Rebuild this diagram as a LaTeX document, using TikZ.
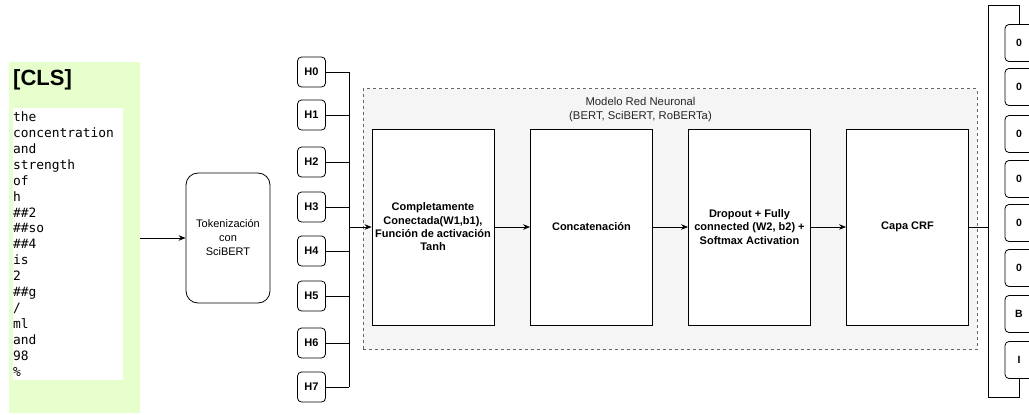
\documentclass[tikz,border=0pt]{standalone}
\usepackage{fontspec}
\setmainfont{Liberation Sans}
\newfontfamily\tokfont{DejaVu Sans Mono}
\usetikzlibrary{arrows.meta}
\definecolor{panelgreen}{HTML}{E6FFCC}
\definecolor{modelfill}{HTML}{F5F5F5}
\definecolor{modeldraw}{HTML}{666666}
\begin{document}
\begin{tikzpicture}[x=1pt,y=-1pt,
  wire/.style={line width=0.8pt},
  arr/.style={wire,-{Stealth[length=7pt,width=5.5pt]}},
  hbox/.style={draw,wire,rounded corners=4pt,minimum width=28pt,minimum height=30pt,inner sep=0pt,font=\bfseries\fontsize{11}{13}\selectfont},
  obox/.style={draw,wire,rounded corners=4pt,minimum width=28pt,minimum height=37pt,inner sep=0pt,font=\bfseries\fontsize{10.5}{12}\selectfont},
  layer/.style={draw,wire,fill=white,minimum width=122pt,minimum height=196pt,inner sep=0pt,align=center,font=\bfseries\fontsize{11}{13.3}\selectfont}
]
\useasboundingbox (0,0) rectangle (1029,415);
\clip (0,0) rectangle (1029,415);

% green token panel
\node[fill=panelgreen,minimum width=131pt,minimum height=351pt,inner sep=0pt] (cls) at (74.5,237.5) {};
\node[anchor=west,inner sep=0pt,font=\bfseries\fontsize{22}{24}\selectfont] (clslbl) at (13,80) {[CLS]};
\node[fill=white,minimum width=110pt,minimum height=272pt,inner sep=0pt,text width=110pt,align=left,
      font=\tokfont\fontsize{12.9}{15.95}\selectfont] (toks) at (68,244)
 {the\\concentration\\and\\strength\\of\\h\\\#\#2\\\#\#so\\\#\#4\\is\\2\\\#\#g\\/\\ml\\and\\98\\\%};

% tokenization
\node[draw,wire,rounded corners=12pt,minimum width=84pt,minimum height=130pt,align=center,
      font=\fontsize{11}{14}\selectfont] (tok) at (228,238) {Tokenización\\con\\SciBERT};
\coordinate (clsout) at (140,238);
\draw[arr] (clsout) -- (tok.west);

% hidden states
\foreach \i/\y in {0/72,1/115,2/162,3/207,4/251,5/296,6/343,7/387}{
  \node[hbox] (h\i) at (311.5,\y) {H\i};
}
\coordinate (bus) at (349,227);
\foreach \i in {0,...,7}{ \draw[wire] (h\i.east) -- (h\i.east -| bus); }
\draw[wire] (h0.east -| bus) -- (h7.east -| bus);

% model container
\node[draw=modeldraw,fill=modelfill,dashed,line width=0.7pt,minimum width=614pt,minimum height=261pt,inner sep=0pt] (model) at (670,219) {};
\node[align=center,font=\fontsize{11.3}{14}\selectfont,text=black!85] (modellbl) at (640.5,110) {Modelo Red Neuronal\\(BERT, SciBERT, RoBERTa)};

\node[layer] (l1) at (433,227) {Completamente\\Conectada(W1,b1),\\Función de activación\\Tanh};
\node[layer] (l2) at (591.5,227) {Concatenación};
\node[layer] (l3) at (749.5,227) {Dropout + Fully\\connected (W2, b2) +\\Softmax Activation};
\node[layer] (l4) at (907.5,227) {Capa CRF};

\draw[arr] (bus) -- (l1.west);
\draw[arr] (l1) -- (l2);
\draw[arr] (l2) -- (l3);
\draw[arr] (l3) -- (l4);

% outputs
\foreach \i/\y/\t in {0/43/0,1/87/0,2/134/0,3/179/0,4/223/0,5/268/0,6/314/B,7/360/I}{
  \node[obox] (o\i) at (1019,\y) {\t};
}
\coordinate (crfout) at (988,227);
\coordinate (rt) at (988,5);
\coordinate (rb) at (988,397);
\draw[wire] (l4.east) -- (crfout);
\draw[wire] (o0.north) |- (rt) -- (rb) -| (o7.south);
\end{tikzpicture}
\end{document}
